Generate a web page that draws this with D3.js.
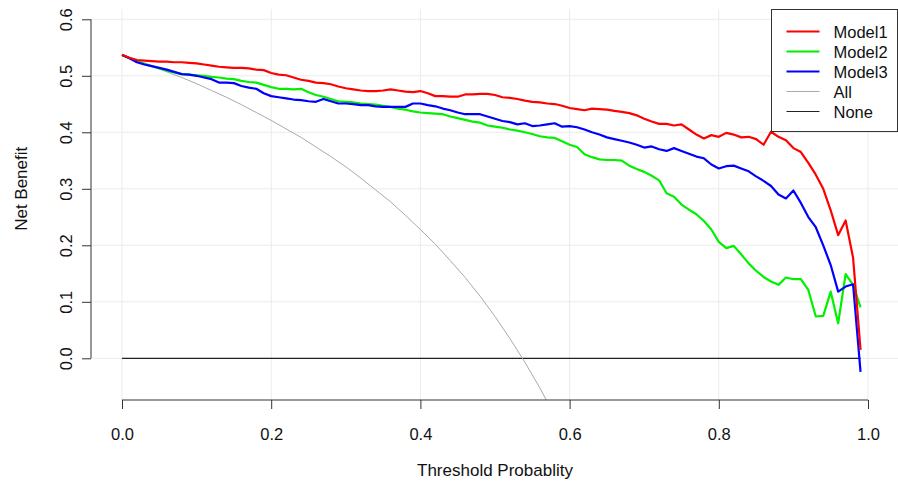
<!DOCTYPE html>
<html lang="en">
<head>
  <meta charset="UTF-8">
  <title>Decision Curve</title>
  <style>
    body { margin: 0; background: #fff; }
    svg { display: block; font-family: 'Liberation Sans', Arial, sans-serif; }
  </style>
</head>
<body>
  <svg id="chart" width="898" height="486"></svg>
  <script src="https://d3js.org/d3.v7.min.js"></script>
  <script>
    // thresholds 0.00 .. 0.99 step 0.01
    const thresholds = d3.range(100).map(i => i / 100);
    const model1 = [
      0.537,0.532,0.528,0.527,0.526,0.525,0.525,0.524,0.524,0.523,
      0.522,0.520,0.518,0.516,0.515,0.514,0.514,0.513,0.511,0.510,
      0.505,0.502,0.501,0.497,0.493,0.491,0.488,0.487,0.485,0.481,
      0.478,0.476,0.474,0.473,0.473,0.474,0.476,0.474,0.472,0.471,
      0.473,0.469,0.464,0.464,0.463,0.463,0.467,0.467,0.468,0.468,
      0.466,0.462,0.461,0.459,0.456,0.454,0.453,0.451,0.450,0.447,
      0.443,0.441,0.439,0.442,0.441,0.440,0.438,0.436,0.434,0.430,
      0.424,0.419,0.415,0.415,0.412,0.414,0.405,0.396,0.389,0.395,
      0.392,0.399,0.396,0.391,0.392,0.388,0.378,0.401,0.392,0.386,
      0.372,0.365,0.346,0.325,0.300,0.262,0.218,0.244,0.178,0.015
    ];
    const model2 = [
      0.537,0.531,0.526,0.521,0.517,0.513,0.509,0.506,0.503,0.502,
      0.501,0.500,0.498,0.497,0.495,0.494,0.491,0.489,0.488,0.484,
      0.480,0.477,0.477,0.476,0.477,0.471,0.466,0.463,0.459,0.455,
      0.454,0.453,0.451,0.450,0.449,0.447,0.445,0.442,0.440,0.437,
      0.435,0.434,0.433,0.432,0.428,0.425,0.422,0.419,0.417,0.412,
      0.410,0.408,0.405,0.403,0.400,0.397,0.393,0.391,0.390,0.384,
      0.378,0.374,0.361,0.356,0.352,0.351,0.351,0.350,0.341,0.335,
      0.330,0.323,0.315,0.292,0.286,0.272,0.263,0.255,0.243,0.228,
      0.206,0.195,0.199,0.184,0.168,0.155,0.144,0.136,0.130,0.143,
      0.140,0.140,0.121,0.074,0.075,0.118,0.062,0.149,0.130,0.090
    ];
    const model3 = [
      0.537,0.531,0.524,0.520,0.517,0.514,0.511,0.507,0.503,0.502,
      0.500,0.497,0.494,0.488,0.488,0.487,0.482,0.479,0.477,0.469,
      0.464,0.462,0.460,0.458,0.457,0.455,0.454,0.459,0.455,0.451,
      0.451,0.450,0.448,0.448,0.446,0.445,0.445,0.445,0.445,0.451,
      0.451,0.448,0.446,0.442,0.439,0.435,0.432,0.432,0.432,0.428,
      0.424,0.420,0.418,0.414,0.416,0.411,0.412,0.414,0.416,0.410,
      0.411,0.409,0.405,0.400,0.396,0.391,0.388,0.385,0.382,0.378,
      0.373,0.375,0.370,0.367,0.372,0.367,0.362,0.357,0.354,0.343,
      0.336,0.340,0.341,0.336,0.331,0.322,0.314,0.305,0.290,0.283,
      0.297,0.275,0.250,0.232,0.200,0.165,0.118,0.127,0.131,-0.024
    ];
    // treat-all curve, read every 0.02
    const allX = d3.range(30).map(i => i * 0.02);
    const allY = [
      0.537,0.528,0.518,0.507,0.497,0.486,0.474,0.462,0.449,0.435,
      0.421,0.406,0.391,0.374,0.357,0.339,0.319,0.298,0.277,0.253,
      0.228,0.202,0.173,0.143,0.110,0.074,0.035,-0.007,-0.052,-0.102
    ];
    const xTicks = [0, 0.2, 0.4, 0.6, 0.8, 1.0];
    const yTicks = [0, 0.1, 0.2, 0.3, 0.4, 0.5, 0.6];

    const series = [
      { name: "Model1", color: "#ff0000", width: 2.2, x: thresholds, y: model1 },
      { name: "Model2", color: "#00f000", width: 2.2, x: thresholds, y: model2 },
      { name: "Model3", color: "#0000ff", width: 2.2, x: thresholds, y: model3 },
      { name: "All", color: "#aaaaaa", width: 1, x: allX, y: allY },
      { name: "None", color: "#222222", width: 1.2, x: [0, 0.99], y: [0, 0] }
    ];

    const svg = d3.select('#chart');
    const plot = { left: 92, right: 898, top: 9, bottom: 400 };
    const x = d3.scaleLinear().domain([0, 1]).range([122, 868]);
    const y = d3.scaleLinear().domain([0, 0.6]).range([358.3, 19.3]);

    svg.append('clipPath').attr('id', 'clip')
      .append('rect')
      .attr('x', plot.left).attr('y', plot.top)
      .attr('width', plot.right - plot.left).attr('height', plot.bottom - plot.top);

    // grid
    const grid = svg.append('g').attr('stroke', '#ebebeb').attr('stroke-width', 1);
    grid.selectAll('.gx').data(xTicks).enter().append('line')
      .attr('x1', d => x(d)).attr('x2', d => x(d))
      .attr('y1', plot.top).attr('y2', plot.bottom);
    grid.selectAll('.gy').data(yTicks).enter().append('line')
      .attr('x1', plot.left).attr('x2', plot.right)
      .attr('y1', d => y(d)).attr('y2', d => y(d));

    // curves
    const line = d3.line().x(d => x(d[0])).y(d => y(d[1]));
    const curves = svg.append('g').attr('clip-path', 'url(#clip)');
    [4, 3, 1, 2, 0].forEach(i => {
      const s = series[i];
      curves.append('path')
        .datum(s.x.map((v, j) => [v, s.y[j]]))
        .attr('fill', 'none')
        .attr('stroke', s.color)
        .attr('stroke-width', s.width)
        .attr('stroke-linejoin', 'round')
        .attr('d', line);
    });

    // axes
    const xAxis = svg.append('g')
      .attr('transform', `translate(0,${plot.bottom})`)
      .call(d3.axisBottom(x).tickValues(xTicks).tickFormat(d3.format('.1f')).tickSize(9).tickSizeOuter(0));
    xAxis.select('.domain').remove();
    xAxis.append('line').attr('x1', x(0)).attr('x2', x(1)).attr('stroke', '#333');
    xAxis.selectAll('.tick line').attr('stroke', '#333');
    xAxis.selectAll('.tick text')
      .attr('y', 28).attr('dy', '0.71em')
      .attr('font-size', 16.5).attr('fill', '#111');

    const yAxis = svg.append('g')
      .attr('transform', `translate(${plot.left - 1},0)`)
      .call(d3.axisLeft(y).tickValues(yTicks).tickFormat(d3.format('.1f')).tickSize(9).tickSizeOuter(0));
    yAxis.select('.domain').remove();
    yAxis.append('line').attr('y1', y(0)).attr('y2', y(0.6)).attr('stroke', '#333');
    yAxis.selectAll('.tick line').attr('stroke', '#333');
    yAxis.selectAll('.tick text')
      .attr('x', 0).attr('dy', 0)
      .attr('transform', 'translate(-25,0) rotate(-90)')
      .attr('text-anchor', 'middle')
      .attr('dominant-baseline', 'central')
      .attr('font-size', 16.5).attr('fill', '#111');

    svg.append('text')
      .attr('x', (plot.left + plot.right) / 2).attr('y', 476)
      .attr('text-anchor', 'middle').attr('font-size', 17).attr('fill', '#111')
      .text('Threshold Probablity');
    svg.append('text')
      .attr('transform', `translate(21,${y(0.3)}) rotate(-90)`)
      .attr('text-anchor', 'middle').attr('dominant-baseline', 'central')
      .attr('font-size', 17).attr('fill', '#111')
      .text('Net Benefit');

    // legend
    const lg = svg.append('g').attr('transform', 'translate(771.5,9.5)');
    lg.append('rect').attr('width', 126).attr('height', 122)
      .attr('fill', '#fff').attr('stroke', '#333').attr('stroke-width', 1);
    series.forEach((s, i) => {
      const row = lg.append('g').attr('transform', `translate(0,${22 + i * 20})`);
      row.append('line').attr('x1', 15).attr('x2', 48)
        .attr('stroke', s.color).attr('stroke-width', s.width);
      row.append('text').attr('x', 62).attr('dominant-baseline', 'central')
        .attr('font-size', 16.5).attr('fill', '#111').text(s.name);
    });
  </script>
</body>
</html>
